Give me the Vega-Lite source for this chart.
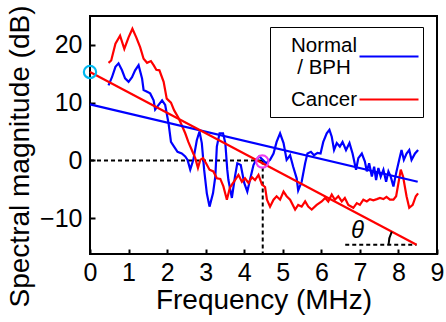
{
  "$schema": "https://vega.github.io/schema/vega-lite/v6.json",
  "width": 347,
  "height": 238,
  "autosize": {"type": "none"},
  "padding": {"left": 90, "top": 16, "right": 9, "bottom": 68},
  "config": {
    "view": {"stroke": "black", "strokeWidth": 2},
    "font": "Liberation Sans",
    "axis": {
      "domain": false, "grid": false,
      "tickColor": "black", "tickWidth": 2, "tickSize": -5,
      "labelColor": "black", "titleColor": "black",
      "labelFont": "Liberation Sans", "titleFont": "Liberation Sans",
      "labelFontSize": 25, "titleFontSize": 28, "titleFontWeight": "normal",
      "labelFlush": false, "labelOverlap": false
    }
  },
  "datasets": {
    "spectra": [
      {"s": "Normal / BPH", "f": 0.48, "v": 13.0}, {"s": "Normal / BPH", "f": 0.57, "v": 14.4}, {"s": "Normal / BPH", "f": 0.66, "v": 16.2}, {"s": "Normal / BPH", "f": 0.74, "v": 16.8}, {"s": "Normal / BPH", "f": 0.83, "v": 15.6}, {"s": "Normal / BPH", "f": 0.91, "v": 14.2}, {"s": "Normal / BPH", "f": 1.0, "v": 13.6}, {"s": "Normal / BPH", "f": 1.09, "v": 14.4}, {"s": "Normal / BPH", "f": 1.17, "v": 15.6}, {"s": "Normal / BPH", "f": 1.26, "v": 16.5}, {"s": "Normal / BPH", "f": 1.35, "v": 14.2}, {"s": "Normal / BPH", "f": 1.39, "v": 12.2}, {"s": "Normal / BPH", "f": 1.48, "v": 11.9}, {"s": "Normal / BPH", "f": 1.56, "v": 11.6}, {"s": "Normal / BPH", "f": 1.65, "v": 10.4}, {"s": "Normal / BPH", "f": 1.69, "v": 8.8}, {"s": "Normal / BPH", "f": 1.78, "v": 9.6}, {"s": "Normal / BPH", "f": 1.87, "v": 10.4}, {"s": "Normal / BPH", "f": 1.95, "v": 9.6}, {"s": "Normal / BPH", "f": 2.04, "v": 6.3}, {"s": "Normal / BPH", "f": 2.1, "v": 3.2}, {"s": "Normal / BPH", "f": 2.18, "v": 2.4}, {"s": "Normal / BPH", "f": 2.27, "v": 1.5}, {"s": "Normal / BPH", "f": 2.38, "v": 1.2}, {"s": "Normal / BPH", "f": 2.47, "v": 0.7}, {"s": "Normal / BPH", "f": 2.53, "v": 0.1}, {"s": "Normal / BPH", "f": 2.6, "v": -1.6}, {"s": "Normal / BPH", "f": 2.68, "v": 0.1}, {"s": "Normal / BPH", "f": 2.77, "v": 3.5}, {"s": "Normal / BPH", "f": 2.84, "v": 5.0}, {"s": "Normal / BPH", "f": 2.9, "v": 3.0}, {"s": "Normal / BPH", "f": 2.96, "v": -1.6}, {"s": "Normal / BPH", "f": 3.03, "v": -5.7}, {"s": "Normal / BPH", "f": 3.1, "v": -8.0}, {"s": "Normal / BPH", "f": 3.19, "v": -5.7}, {"s": "Normal / BPH", "f": 3.25, "v": -2.8}, {"s": "Normal / BPH", "f": 3.29, "v": 2.4}, {"s": "Normal / BPH", "f": 3.36, "v": 4.7}, {"s": "Normal / BPH", "f": 3.45, "v": 4.7}, {"s": "Normal / BPH", "f": 3.51, "v": 3.0}, {"s": "Normal / BPH", "f": 3.56, "v": -1.6}, {"s": "Normal / BPH", "f": 3.59, "v": -3.4}, {"s": "Normal / BPH", "f": 3.68, "v": -6.5}, {"s": "Normal / BPH", "f": 3.76, "v": -2.8}, {"s": "Normal / BPH", "f": 3.82, "v": -0.5}, {"s": "Normal / BPH", "f": 3.91, "v": -0.8}, {"s": "Normal / BPH", "f": 4.0, "v": -3.9}, {"s": "Normal / BPH", "f": 4.08, "v": -5.4}, {"s": "Normal / BPH", "f": 4.17, "v": -2.8}, {"s": "Normal / BPH", "f": 4.24, "v": -0.8}, {"s": "Normal / BPH", "f": 4.31, "v": 0.1}, {"s": "Normal / BPH", "f": 4.39, "v": 0.7}, {"s": "Normal / BPH", "f": 4.48, "v": 0.1}, {"s": "Normal / BPH", "f": 4.57, "v": -0.5}, {"s": "Normal / BPH", "f": 4.67, "v": 0.1}, {"s": "Normal / BPH", "f": 4.76, "v": 1.2}, {"s": "Normal / BPH", "f": 4.84, "v": 3.2}, {"s": "Normal / BPH", "f": 4.93, "v": 4.7}, {"s": "Normal / BPH", "f": 5.02, "v": 3.0}, {"s": "Normal / BPH", "f": 5.1, "v": 0.1}, {"s": "Normal / BPH", "f": 5.19, "v": 0.9}, {"s": "Normal / BPH", "f": 5.27, "v": -1.1}, {"s": "Normal / BPH", "f": 5.36, "v": -3.1}, {"s": "Normal / BPH", "f": 5.4, "v": -5.2}, {"s": "Normal / BPH", "f": 5.49, "v": -3.7}, {"s": "Normal / BPH", "f": 5.58, "v": -0.5}, {"s": "Normal / BPH", "f": 5.64, "v": 1.2}, {"s": "Normal / BPH", "f": 5.73, "v": 1.5}, {"s": "Normal / BPH", "f": 5.81, "v": 0.9}, {"s": "Normal / BPH", "f": 5.9, "v": 1.3}, {"s": "Normal / BPH", "f": 5.98, "v": 1.2}, {"s": "Normal / BPH", "f": 6.05, "v": 3.2}, {"s": "Normal / BPH", "f": 6.14, "v": 4.7}, {"s": "Normal / BPH", "f": 6.21, "v": 5.3}, {"s": "Normal / BPH", "f": 6.27, "v": 4.1}, {"s": "Normal / BPH", "f": 6.33, "v": 1.8}, {"s": "Normal / BPH", "f": 6.4, "v": 3.0}, {"s": "Normal / BPH", "f": 6.48, "v": 2.4}, {"s": "Normal / BPH", "f": 6.55, "v": 3.2}, {"s": "Normal / BPH", "f": 6.64, "v": 1.8}, {"s": "Normal / BPH", "f": 6.73, "v": 3.0}, {"s": "Normal / BPH", "f": 6.81, "v": 1.2}, {"s": "Normal / BPH", "f": 6.9, "v": -1.6}, {"s": "Normal / BPH", "f": 6.96, "v": 0.4}, {"s": "Normal / BPH", "f": 7.05, "v": 1.2}, {"s": "Normal / BPH", "f": 7.13, "v": -0.2}, {"s": "Normal / BPH", "f": 7.18, "v": -1.9}, {"s": "Normal / BPH", "f": 7.24, "v": -0.5}, {"s": "Normal / BPH", "f": 7.31, "v": -2.8}, {"s": "Normal / BPH", "f": 7.37, "v": -1.1}, {"s": "Normal / BPH", "f": 7.42, "v": -3.4}, {"s": "Normal / BPH", "f": 7.48, "v": -1.3}, {"s": "Normal / BPH", "f": 7.54, "v": -2.8}, {"s": "Normal / BPH", "f": 7.61, "v": -1.6}, {"s": "Normal / BPH", "f": 7.68, "v": -3.7}, {"s": "Normal / BPH", "f": 7.74, "v": -1.9}, {"s": "Normal / BPH", "f": 7.8, "v": -2.8}, {"s": "Normal / BPH", "f": 7.87, "v": -4.5}, {"s": "Normal / BPH", "f": 7.94, "v": -2.2}, {"s": "Normal / BPH", "f": 8.02, "v": 0.1}, {"s": "Normal / BPH", "f": 8.08, "v": 1.8}, {"s": "Normal / BPH", "f": 8.14, "v": 0.1}, {"s": "Normal / BPH", "f": 8.21, "v": 1.2}, {"s": "Normal / BPH", "f": 8.28, "v": 1.8}, {"s": "Normal / BPH", "f": 8.34, "v": 0.1}, {"s": "Normal / BPH", "f": 8.43, "v": 1.2}, {"s": "Normal / BPH", "f": 8.51, "v": 1.8},
      {"s": "Cancer", "f": 0.48, "v": 16.9}, {"s": "Cancer", "f": 0.55, "v": 17.3}, {"s": "Cancer", "f": 0.66, "v": 20.2}, {"s": "Cancer", "f": 0.78, "v": 21.6}, {"s": "Cancer", "f": 0.89, "v": 19.3}, {"s": "Cancer", "f": 1.0, "v": 21.3}, {"s": "Cancer", "f": 1.1, "v": 22.8}, {"s": "Cancer", "f": 1.2, "v": 21.3}, {"s": "Cancer", "f": 1.3, "v": 19.6}, {"s": "Cancer", "f": 1.39, "v": 17.6}, {"s": "Cancer", "f": 1.48, "v": 16.9}, {"s": "Cancer", "f": 1.58, "v": 17.2}, {"s": "Cancer", "f": 1.65, "v": 16.5}, {"s": "Cancer", "f": 1.72, "v": 15.7}, {"s": "Cancer", "f": 1.8, "v": 15.6}, {"s": "Cancer", "f": 1.91, "v": 13.6}, {"s": "Cancer", "f": 1.99, "v": 10.7}, {"s": "Cancer", "f": 2.1, "v": 10.0}, {"s": "Cancer", "f": 2.18, "v": 8.7}, {"s": "Cancer", "f": 2.3, "v": 7.3}, {"s": "Cancer", "f": 2.38, "v": 6.1}, {"s": "Cancer", "f": 2.47, "v": 4.7}, {"s": "Cancer", "f": 2.55, "v": 3.2}, {"s": "Cancer", "f": 2.64, "v": 1.8}, {"s": "Cancer", "f": 2.73, "v": 0.4}, {"s": "Cancer", "f": 2.8, "v": -1.3}, {"s": "Cancer", "f": 2.86, "v": 0.1}, {"s": "Cancer", "f": 2.93, "v": 0.4}, {"s": "Cancer", "f": 3.01, "v": -0.5}, {"s": "Cancer", "f": 3.1, "v": -1.6}, {"s": "Cancer", "f": 3.2, "v": -1.9}, {"s": "Cancer", "f": 3.29, "v": -3.1}, {"s": "Cancer", "f": 3.38, "v": -3.2}, {"s": "Cancer", "f": 3.46, "v": -4.5}, {"s": "Cancer", "f": 3.55, "v": -6.8}, {"s": "Cancer", "f": 3.63, "v": -4.7}, {"s": "Cancer", "f": 3.76, "v": -3.4}, {"s": "Cancer", "f": 3.85, "v": -2.5}, {"s": "Cancer", "f": 3.94, "v": -3.7}, {"s": "Cancer", "f": 4.02, "v": -3.1}, {"s": "Cancer", "f": 4.11, "v": -3.9}, {"s": "Cancer", "f": 4.2, "v": -2.9}, {"s": "Cancer", "f": 4.28, "v": -3.4}, {"s": "Cancer", "f": 4.37, "v": -2.5}, {"s": "Cancer", "f": 4.46, "v": -4.2}, {"s": "Cancer", "f": 4.54, "v": -4.6}, {"s": "Cancer", "f": 4.59, "v": -6.8}, {"s": "Cancer", "f": 4.67, "v": -8.0}, {"s": "Cancer", "f": 4.76, "v": -6.8}, {"s": "Cancer", "f": 4.84, "v": -6.2}, {"s": "Cancer", "f": 4.93, "v": -6.8}, {"s": "Cancer", "f": 5.02, "v": -5.4}, {"s": "Cancer", "f": 5.1, "v": -6.2}, {"s": "Cancer", "f": 5.19, "v": -6.8}, {"s": "Cancer", "f": 5.32, "v": -8.5}, {"s": "Cancer", "f": 5.4, "v": -7.7}, {"s": "Cancer", "f": 5.49, "v": -8.0}, {"s": "Cancer", "f": 5.58, "v": -7.1}, {"s": "Cancer", "f": 5.66, "v": -8.0}, {"s": "Cancer", "f": 5.75, "v": -8.5}, {"s": "Cancer", "f": 5.88, "v": -7.7}, {"s": "Cancer", "f": 6.01, "v": -7.1}, {"s": "Cancer", "f": 6.1, "v": -6.5}, {"s": "Cancer", "f": 6.18, "v": -7.1}, {"s": "Cancer", "f": 6.27, "v": -5.9}, {"s": "Cancer", "f": 6.35, "v": -6.8}, {"s": "Cancer", "f": 6.44, "v": -6.2}, {"s": "Cancer", "f": 6.53, "v": -7.1}, {"s": "Cancer", "f": 6.61, "v": -6.5}, {"s": "Cancer", "f": 6.7, "v": -7.7}, {"s": "Cancer", "f": 6.83, "v": -8.2}, {"s": "Cancer", "f": 6.92, "v": -7.4}, {"s": "Cancer", "f": 7.0, "v": -7.7}, {"s": "Cancer", "f": 7.09, "v": -6.8}, {"s": "Cancer", "f": 7.18, "v": -7.1}, {"s": "Cancer", "f": 7.26, "v": -6.7}, {"s": "Cancer", "f": 7.35, "v": -6.9}, {"s": "Cancer", "f": 7.44, "v": -6.7}, {"s": "Cancer", "f": 7.52, "v": -6.5}, {"s": "Cancer", "f": 7.61, "v": -6.7}, {"s": "Cancer", "f": 7.69, "v": -6.3}, {"s": "Cancer", "f": 7.78, "v": -6.8}, {"s": "Cancer", "f": 7.87, "v": -6.8}, {"s": "Cancer", "f": 7.94, "v": -6.2}, {"s": "Cancer", "f": 8.0, "v": -3.9}, {"s": "Cancer", "f": 8.06, "v": -1.6}, {"s": "Cancer", "f": 8.12, "v": -2.8}, {"s": "Cancer", "f": 8.21, "v": -6.2}, {"s": "Cancer", "f": 8.28, "v": -8.2}, {"s": "Cancer", "f": 8.37, "v": -7.7}, {"s": "Cancer", "f": 8.45, "v": -6.2}, {"s": "Cancer", "f": 8.51, "v": -5.7}
    ],
    "fits": [
      {"s": "Normal / BPH", "f": 0, "v": 9.7}, {"s": "Normal / BPH", "f": 8.5, "v": -3.7},
      {"s": "Cancer", "f": 0, "v": 15.3}, {"s": "Cancer", "f": 8.47, "v": -14.6}
    ],
    "guides": [
      {"f": 0, "f2": 4.48, "v": 0, "v2": 0},
      {"f": 4.48, "f2": 4.48, "v": 0, "v2": -16.2},
      {"f": 6.62, "f2": 8.47, "v": -14.6, "v2": -14.6}
    ],
    "markers": [
      {"kind": "intercept", "f": 0, "v": 15.3},
      {"kind": "crossing", "f": 4.47, "v": -0.2}
    ],
    "notes": [{"f": 6.94, "v": -12.2, "label": "θ"}],
    "pivot": [{"f": 8.47, "v": -14.6}]
  },
  "encoding": {
    "x": {"field": "f", "type": "quantitative", "scale": {"domain": [0, 9], "nice": false, "zero": false},
          "axis": {"values": [0, 1, 2, 3, 4, 5, 6, 7, 8, 9], "tickCount": 10, "labelOverlap": false, "labelFlush": false, "labelPadding": 11, "title": "Frequency (MHz)", "titleY": 46, "titleBaseline": "middle"}},
    "y": {"field": "v", "type": "quantitative", "scale": {"domain": [-16.2, 25], "nice": false, "zero": false},
          "axis": {"values": [-10, 0, 10, 20], "labelOverlap": false, "labelPadding": 13, "title": "Spectral magnitude (dB)", "titleX": -70, "titleY": 140, "titleBaseline": "middle", "titleAlign": "center"}}
  },
  "layer": [
    {
      "data": {"name": "guides"},
      "mark": {"type": "rule", "color": "black", "strokeWidth": 2, "strokeDash": [4, 3]},
      "encoding": {
        "x2": {"field": "f2"},
        "y2": {"field": "v2"}
      }
    },
    {
      "data": {"name": "spectra"},
      "mark": {"type": "line", "strokeWidth": 2.2},
      "encoding": {
        "color": {"field": "s", "type": "nominal",
          "scale": {"domain": ["Normal / BPH", "Cancer"], "range": ["#0000FF", "#FF0000"]},
          "legend": {
            "title": " ", "titleFontSize": 1, "titlePadding": 9,
            "orient": "none", "legendX": 180, "legendY": 11, "padding": 0,
            "strokeColor": "black", "fillColor": "white",
            "symbolType": "M-1.639,0H1.639M0,0.7", "symbolSize": 1296, "symbolStrokeWidth": 2.2,
            "symbolOffset": 99.5, "labelOffset": -84.5, "labelAlign": "center",
            "rowPadding": 1, "columnPadding": 0,
            "labelFont": "Liberation Sans", "labelFontSize": 20.5, "labelLineHeight": 22, "labelColor": "black",
            "labelExpr": "datum.label == 'Normal / BPH' ? ['Normal', '/ BPH'] : datum.label",
            "encode": {"labels": {"update": {"dy": {"signal": "datum.value == 'Normal / BPH' ? -11 : 0"}}}}
          }}
      }
    },
    {
      "data": {"name": "fits"},
      "mark": {"type": "line", "strokeWidth": 2.2},
      "encoding": {
        "color": {"field": "s", "type": "nominal"}
      }
    },
    {
      "data": {"name": "markers"},
      "mark": {"type": "point", "shape": "circle", "filled": false, "size": 150, "strokeWidth": 2.2, "opacity": 1},
      "encoding": {
        "stroke": {"field": "kind", "type": "nominal", "scale": {"domain": ["intercept", "crossing"], "range": ["#00B8F0", "#F040F0"]}, "legend": null}
      }
    },
    {
      "data": {"name": "notes"},
      "mark": {"type": "text", "font": "Liberation Sans", "fontSize": 24, "fontStyle": "italic", "color": "black"},
      "encoding": {
        "text": {"field": "label"}
      }
    },
    {
      "data": {"name": "pivot"},
      "mark": {"type": "arc", "theta": 4.712, "theta2": 5.196, "radius": 28, "radius2": 28, "filled": false, "stroke": "black", "strokeWidth": 2},
      "encoding": {}
    }
  ]
}
